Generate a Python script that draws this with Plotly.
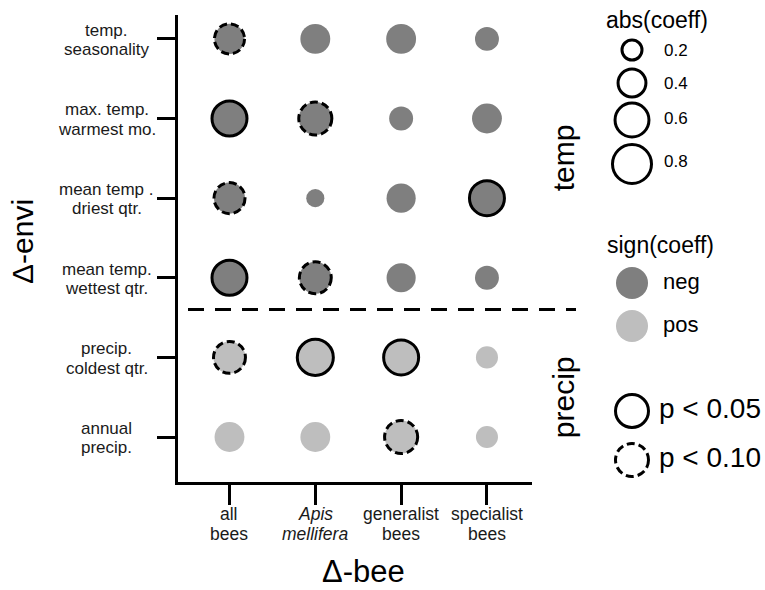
import plotly.graph_objects as go
import math

# ---------------- data ----------------
bee_groups = ["all<br>bees", "<i>Apis</i><br><i>mellifera</i>", "generalist<br>bees", "specialist<br>bees"]
envi_vars = ["temp.<br>seasonality", "max. temp.<br>warmest mo.", "mean temp .<br>driest qtr.",
             "mean temp.<br>wettest qtr.", "precip.<br>coldest qtr.", "annual<br>precip."]
envi_group = ["temp", "temp", "temp", "temp", "precip", "precip"]
envi_sign = ["neg", "neg", "neg", "neg", "pos", "pos"]

# abs(coeff) per bee group, ordered like envi_vars
abs_all_bees = [0.47, 0.64, 0.50, 0.64, 0.53, 0.37]
abs_apis = [0.37, 0.57, 0.11, 0.53, 0.68, 0.37]
abs_generalist = [0.37, 0.22, 0.35, 0.35, 0.64, 0.57]
abs_specialist = [0.22, 0.37, 0.64, 0.22, 0.18, 0.18]

# significance: "" none, "p05" p<0.05, "p10" p<0.10
sig_all_bees = ["p10", "p05", "p10", "p05", "p10", ""]
sig_apis = ["", "p10", "", "p10", "p05", ""]
sig_generalist = ["", "", "", "", "p05", "p10"]
sig_specialist = ["", "", "p05", "", "", ""]

legend_sizes = [0.2, 0.4, 0.6, 0.8]

abs_cols = [abs_all_bees, abs_apis, abs_generalist, abs_specialist]
sig_cols = [sig_all_bees, sig_apis, sig_generalist, sig_specialist]

FONT = "Liberation Sans, Arial, sans-serif"
COL = {"neg": "#7f7f7f", "pos": "#bebebe"}
LW = 3
DASHES = {"p05": "solid", "p10": "8px,4px"}


def size_of(v):
    return 4 + 42.5 * math.sqrt(v)


# plot area in pixels
L, R, T, B = 178, 532, 15, 482
W, H = R - L, B - T


def px_x(px):
    return (px - L) / W


def px_y(py):
    return (B - py) / H


fig = go.Figure()
shapes = []

for sign in ["neg", "pos"]:
    xs, ys, ss = [], [], []
    for j, col in enumerate(abs_cols):
        for i, v in enumerate(col):
            if envi_sign[i] != sign:
                continue
            xs.append(j)
            ys.append(i)
            d = size_of(v)
            ss.append(d - LW if sig_cols[j][i] else d)
    fig.add_trace(go.Scatter(x=xs, y=ys, mode="markers", showlegend=False,
                             marker=dict(size=ss, color=COL[sign], opacity=1, line=dict(width=0)),
                             hoverinfo="skip"))

for j, col in enumerate(abs_cols):
    for i, v in enumerate(col):
        s = sig_cols[j][i]
        if not s:
            continue
        r = (size_of(v) - LW) / 2
        shapes.append(dict(type="circle", xref="x", yref="y", xsizemode="pixel", ysizemode="pixel",
                           xanchor=j, yanchor=i, x0=-r, x1=r, y0=-r, y1=r,
                           line=dict(color="black", width=LW, dash=DASHES[s])))

# divider between temp and precip panels
n_temp = envi_group.count("temp")
shapes.append(dict(type="line", xref="paper", yref="y", x0=px_x(188), x1=px_x(576),
                   y0=n_temp - 0.6, y1=n_temp - 0.6,
                   line=dict(color="black", width=3, dash="16px,11px")))

annotations = []
LINE_GAP = 19.5
# y tick labels (centered, two lines each)
for i, lab in enumerate(envi_vars):
    lines = lab.split("<br>")
    for k, ln in enumerate(lines):
        off = (k - (len(lines) - 1) / 2) * LINE_GAP
        annotations.append(dict(x=px_x(106.5), y=i, xref="paper", yref="y", yshift=-off - 1,
                                text=ln, showarrow=False, xanchor="center", yanchor="middle",
                                borderpad=0,
                                font=dict(family=FONT, size=17, color="#1a1a1a")))
# x tick labels (centered, two lines each)
for j, lab in enumerate(bee_groups):
    lines = lab.split("<br>")
    for k, ln in enumerate(lines):
        annotations.append(dict(x=j, y=px_y(514 + k * LINE_GAP), xref="x", yref="paper",
                                text=ln, showarrow=False, xanchor="center", yanchor="middle",
                                borderpad=0,
                                font=dict(family=FONT, size=17.5, color="#1a1a1a")))

# axis titles
annotations.append(dict(x=px_x(363), y=px_y(571), xref="paper", yref="paper", text="Δ-bee",
                        showarrow=False, xanchor="center", yanchor="middle", borderpad=0,
                        font=dict(family=FONT, size=31, color="black")))
annotations.append(dict(x=px_x(22), y=px_y(242), xref="paper", yref="paper", text="Δ-envi",
                        showarrow=False, textangle=-90, xanchor="center", yanchor="middle",
                        font=dict(family=FONT, size=30, color="black")))

# panel strip labels
annotations.append(dict(x=px_x(563), y=1.5, xref="paper", yref="y", text="temp",
                        showarrow=False, textangle=-90, xanchor="center", yanchor="middle",
                        font=dict(family=FONT, size=30, color="black")))
annotations.append(dict(x=px_x(563), y=4.5, xref="paper", yref="y", text="precip",
                        showarrow=False, textangle=-90, xanchor="center", yanchor="middle",
                        font=dict(family=FONT, size=30, color="black")))

# ---------------- legends ----------------
LCX = 632
annotations.append(dict(x=px_x(657), y=px_y(20), xref="paper", yref="paper", text="abs(coeff)",
                        showarrow=False, xanchor="center", yanchor="middle",
                        font=dict(family=FONT, size=23, color="black")))
size_y = [50, 83, 120, 164]
label_y = [50, 83, 118, 161]
for v, cy, ly in zip(legend_sizes, size_y, label_y):
    r = (size_of(v) - LW) / 2
    shapes.append(dict(type="circle", xref="paper", yref="paper", xsizemode="pixel", ysizemode="pixel",
                       xanchor=px_x(LCX), yanchor=px_y(cy), x0=-r, x1=r, y0=-r, y1=r,
                       line=dict(color="black", width=LW)))
    annotations.append(dict(x=px_x(662), y=px_y(ly), xref="paper", yref="paper", text=f"{v:.1f}",
                            showarrow=False, xanchor="left", yanchor="middle",
                            font=dict(family=FONT, size=17, color="black")))

annotations.append(dict(x=px_x(660), y=px_y(245), xref="paper", yref="paper", text="sign(coeff)",
                        showarrow=False, xanchor="center", yanchor="middle",
                        font=dict(family=FONT, size=23, color="black")))
for sign, cy in zip(["neg", "pos"], [283, 326]):
    r = 16
    shapes.append(dict(type="circle", xref="paper", yref="paper", xsizemode="pixel", ysizemode="pixel",
                       xanchor=px_x(LCX), yanchor=px_y(cy), x0=-r, x1=r, y0=-r, y1=r,
                       fillcolor=COL[sign], line=dict(width=0)))
    annotations.append(dict(x=px_x(661), y=px_y(cy - 2), xref="paper", yref="paper", text=sign,
                            showarrow=False, xanchor="left", yanchor="middle",
                            font=dict(family=FONT, size=22, color="black")))

for key, lab, cy in zip(["p05", "p10"], ["p < 0.05", "p < 0.10"], [411, 460]):
    r = 16.5
    shapes.append(dict(type="circle", xref="paper", yref="paper", xsizemode="pixel", ysizemode="pixel",
                       xanchor=px_x(LCX), yanchor=px_y(cy), x0=-r, x1=r, y0=-r, y1=r,
                       line=dict(color="black", width=LW, dash=DASHES[key])))
    annotations.append(dict(x=px_x(657), y=px_y(cy - 3), xref="paper", yref="paper", text=lab,
                            showarrow=False, xanchor="left", yanchor="middle",
                            font=dict(family=FONT, size=28, color="black")))

fig.update_layout(
    width=765, height=590,
    margin=dict(l=L, r=765 - R, t=T, b=590 - B),
    paper_bgcolor="white", plot_bgcolor="white",
    showlegend=False,
    shapes=shapes, annotations=annotations,
    xaxis=dict(range=[-0.60, 3.525], tickmode="array", tickvals=list(range(len(bee_groups))),
               showticklabels=False, showgrid=False, zeroline=False,
               showline=True, linecolor="black", linewidth=3,
               ticks="outside", ticklen=20, tickwidth=3, tickcolor="black"),
    yaxis=dict(range=[5.565, -0.30], tickmode="array", tickvals=list(range(len(envi_vars))),
               showticklabels=False, showgrid=False, zeroline=False,
               showline=True, linecolor="black", linewidth=3,
               ticks="outside", ticklen=18, tickwidth=3, tickcolor="black"),
)

fig.write_html("out.html")
